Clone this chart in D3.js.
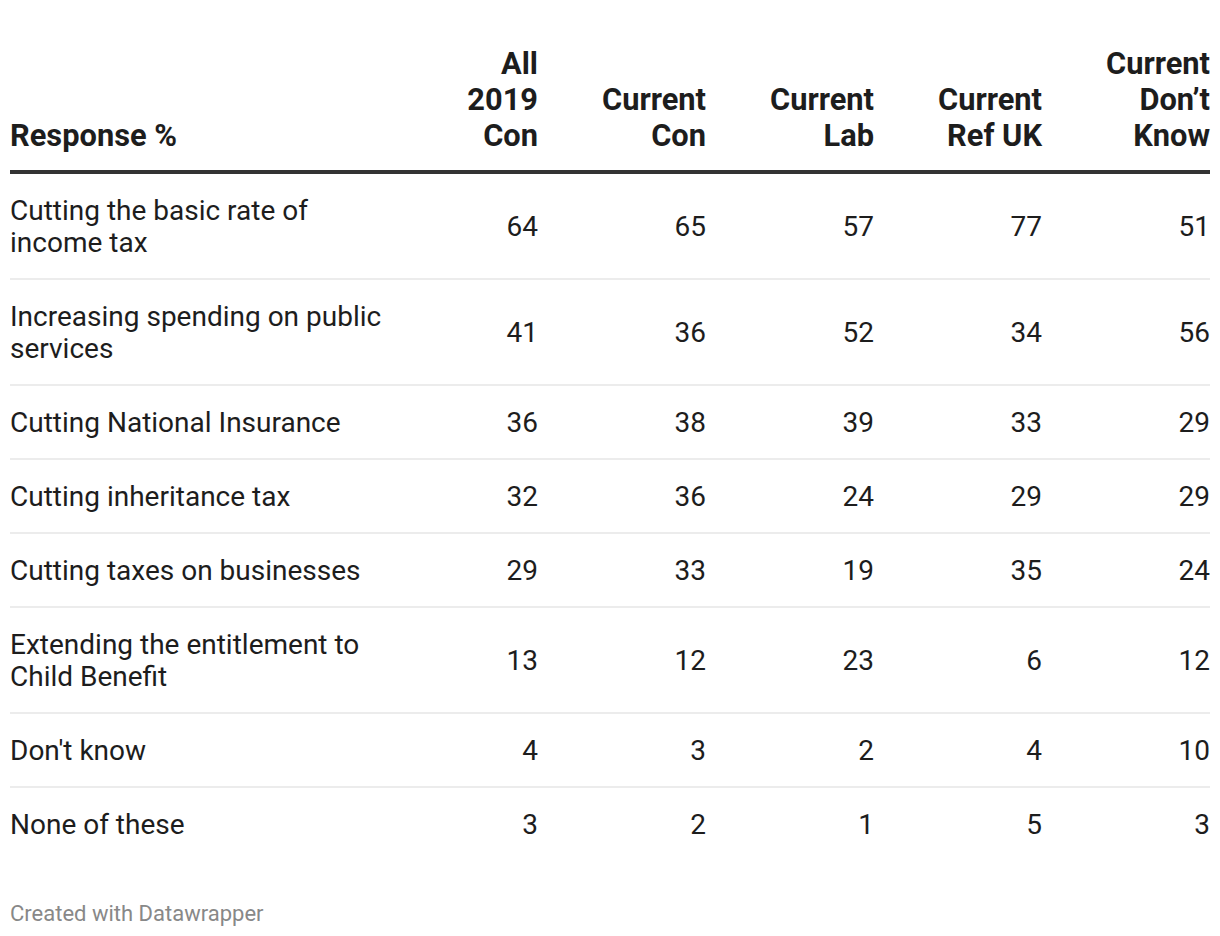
<!DOCTYPE html>
<html>
<head>
<meta charset="utf-8">
<script src="https://cdn.jsdelivr.net/npm/d3@7"></script>
<style>
  html, body { margin: 0; padding: 0; background: #fff; }
  svg text { font-family: Roboto, "Noto Sans", sans-serif; }
</style>
</head>
<body>
<svg id="chart" width="1220" height="936"></svg>
<script>
// ---- data ----
const firstColumnTitle = "Response %";
const columns = ["All 2019 Con", "Current Con", "Current Lab", "Current Ref UK", "Current Don’t Know"];
const columnHeaderLines = [["All", "2019", "Con"], ["Current", "Con"], ["Current", "Lab"], ["Current", "Ref UK"], ["Current", "Don’t", "Know"]];
const responses = [
  "Cutting the basic rate of income tax",
  "Increasing spending on public services",
  "Cutting National Insurance",
  "Cutting inheritance tax",
  "Cutting taxes on businesses",
  "Extending the entitlement to Child Benefit",
  "Don't know",
  "None of these"
];
const all2019Con    = [64, 41, 36, 32, 29, 13, 4, 3];
const currentCon    = [65, 36, 38, 36, 33, 12, 3, 2];
const currentLab    = [57, 52, 39, 24, 19, 23, 2, 1];
const currentRefUK  = [77, 34, 33, 29, 35, 6, 4, 5];
const currentDK     = [51, 56, 29, 29, 24, 12, 10, 3];
const seriesValues = [all2019Con, currentCon, currentLab, currentRefUK, currentDK];
const footerText = "Created with Datawrapper";

// ---- layout ----
const svg = d3.select("#chart");
const left = 10, right = 1210;
const fs = 28, headFs = 30.8, lineH = 32, headLineH = 36;
const labelMaxW = 388;
const textColor = "#1d1d1d";

const x = d3.scaleBand().domain(columns).range([370, right]).padding(0);

// header
const headerBaseLast = 146;
const header = svg.append("g").attr("font-weight", 700).attr("font-size", headFs).attr("fill", textColor);
header.append("text").attr("x", left).attr("y", headerBaseLast).text(firstColumnTitle);
columns.forEach((c, i) => {
  const lines = columnHeaderLines[i];
  const t = header.append("text").attr("text-anchor", "end");
  lines.forEach((ln, j) => {
    t.append("tspan").attr("x", x(c) + x.bandwidth())
      .attr("y", headerBaseLast - (lines.length - 1 - j) * headLineH).text(ln);
  });
});
svg.append("rect").attr("x", left).attr("y", 170).attr("width", right - left).attr("height", 4).attr("fill", "#333");

// wrap labels
const measure = svg.append("text").attr("font-size", fs).attr("visibility", "hidden");
function wrap(str) {
  const words = str.split(" ");
  const lines = [];
  let cur = "";
  words.forEach(w => {
    const test = cur ? cur + " " + w : w;
    measure.text(test);
    if (measure.node().getComputedTextLength() > labelMaxW && cur) {
      lines.push(cur); cur = w;
    } else cur = test;
  });
  if (cur) lines.push(cur);
  return lines;
}
const wrapped = responses.map(wrap);
measure.remove();

// rows
const padV = 20, divider = 2;
let y0 = 174;
const body = svg.append("g").attr("font-size", fs).attr("fill", textColor);
responses.forEach((r, i) => {
  const lines = wrapped[i];
  const h = lines.length * lineH + padV * 2;
  const center = y0 + h / 2;
  const t = body.append("text");
  lines.forEach((ln, j) => {
    const c = center + (j - (lines.length - 1) / 2) * lineH;
    t.append("tspan").attr("x", left).attr("y", c + fs * 0.711 / 2).text(ln);
  });
  columns.forEach((c, k) => {
    body.append("text").attr("text-anchor", "end")
      .attr("x", x(c) + x.bandwidth())
      .attr("y", center + fs * 0.711 / 2)
      .text(seriesValues[k][i]);
  });
  y0 += h;
  if (i < responses.length - 1) {
    svg.append("rect").attr("x", left).attr("y", y0).attr("width", right - left).attr("height", divider).attr("fill", "#ececec");
    y0 += divider;
  }
});

// footer
svg.append("text").attr("x", left).attr("y", 921).attr("font-size", 22).attr("fill", "#888888").text(footerText);
</script>
</body>
</html>
